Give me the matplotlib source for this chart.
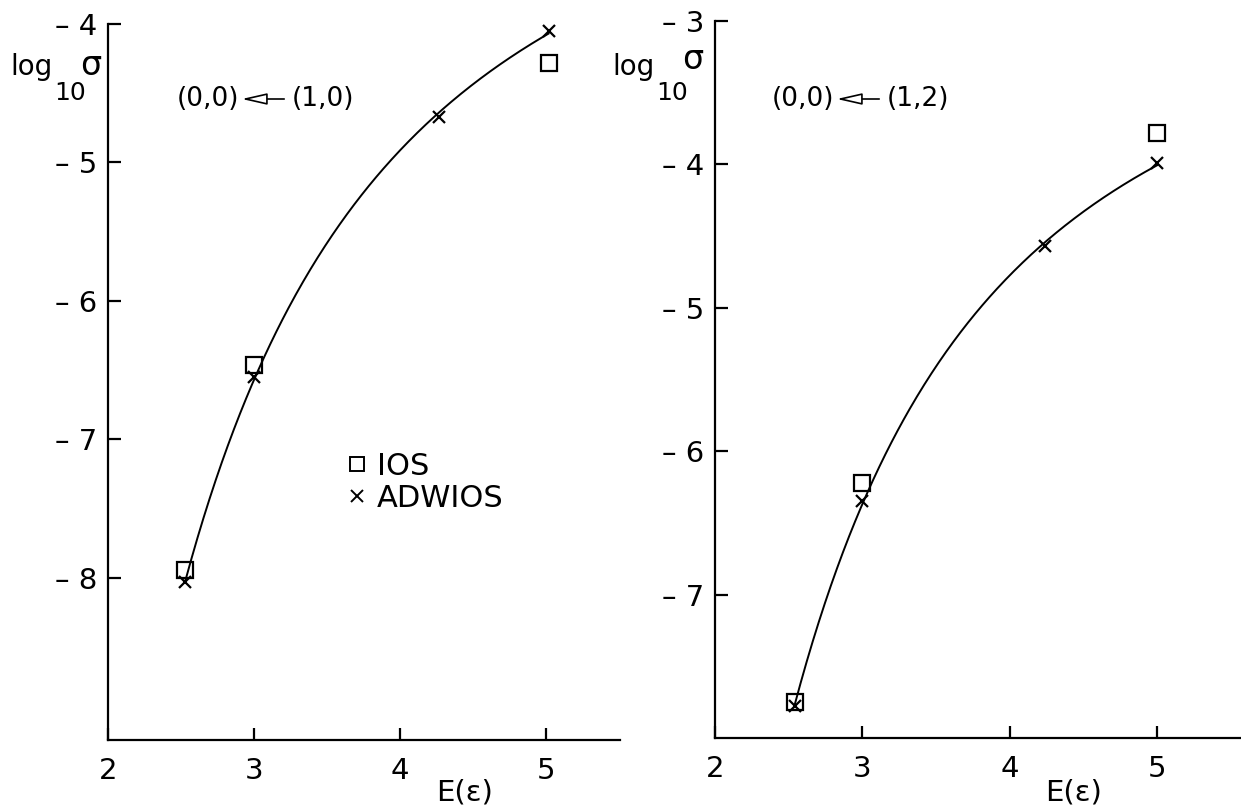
import numpy as np
import matplotlib
matplotlib.use("Agg")
import matplotlib.pyplot as plt
from matplotlib.lines import Line2D
from matplotlib.patches import FancyArrowPatch

plt.rcParams['font.family'] = ['DejaVu Sans']

# ---- data: panel (0,0) -> (1,0)
left_ios_x = [2.53, 3.0, 5.02]
left_ios_y = [-7.94, -6.46, -4.28]
left_adw_x = [2.53, 3.0, 4.27, 5.02]
left_adw_y = [-8.03, -6.55, -4.67, -4.05]

# ---- data: panel (0,0) -> (1,2)
right_ios_x = [2.54, 3.0, 5.0]
right_ios_y = [-7.75, -6.22, -3.78]
right_adw_x = [2.54, 3.0, 4.24, 5.0]
right_adw_y = [-7.78, -6.35, -4.57, -3.99]

x_ticks = [2, 3, 4, 5]
left_y_ticks = [-8, -7, -6, -5, -4]
right_y_ticks = [-7, -6, -5, -4, -3]

W, H = 1241, 806
fig = plt.figure(figsize=(W / 100, H / 100), dpi=100)


def fx(px):
    return px / W


def fy(py):
    return 1 - py / H


def setup(ax, xlim, ylim, yticks):
    ax.set_xlim(*xlim)
    ax.set_ylim(*ylim)
    for s in ['top', 'right']:
        ax.spines[s].set_visible(False)
    for s in ['left', 'bottom']:
        ax.spines[s].set_linewidth(1.6)
    ax.set_xticks(x_ticks)
    ax.set_xticklabels([str(t) for t in x_ticks])
    ax.set_yticks(yticks)
    ax.set_yticklabels(['\u2013 %d' % abs(t) for t in yticks])
    ax.tick_params(axis='both', direction='in', length=9, width=1.6,
                   labelsize=21)
    ax.tick_params(axis='x', pad=12)
    ax.tick_params(axis='y', pad=8)
    ax.patch.set_alpha(0)


def draw(ax, ios_x, ios_y, adw_x, adw_y):
    # smooth concave curve through the ADWIOS points (quadratic in 1/E)
    u = 1.0 / np.asarray(adw_x)
    coef = np.polyfit(u, adw_y, 2)
    xs = np.linspace(min(adw_x), max(adw_x), 300)
    ax.plot(xs, np.polyval(coef, 1.0 / xs), color='black', lw=1.4, zorder=2)
    ax.plot(ios_x, ios_y, ls='none', marker='s', ms=12, mfc='none',
            mec='black', mew=1.6, zorder=3, clip_on=False)
    ax.plot(adw_x, adw_y, ls='none', marker='x', ms=9, mec='black',
            mew=1.6, zorder=3, clip_on=False)


# left panel
axL = fig.add_axes([fx(108), fy(740), fx(620 - 108), (740 - 24) / H])
setup(axL, (2, 5.51), (-9.17, -4), left_y_ticks)
draw(axL, left_ios_x, left_ios_y, left_adw_x, left_adw_y)

# right panel
axR = fig.add_axes([fx(715), fy(738), fx(1241 - 715), (738 - 21) / H])
setup(axR, (2, 5.57), (-8, -3), right_y_ticks)
draw(axR, right_ios_x, right_ios_y, right_adw_x, right_adw_y)

# legend in left panel
handles = [Line2D([], [], ls='none', marker='s', ms=10, mfc='none',
                  mec='black', mew=1.4),
           Line2D([], [], ls='none', marker='x', ms=8, mec='black', mew=1.4)]
axL.legend(handles, ['IOS', 'ADWIOS'], frameon=False, fontsize=22,
           loc='center left', bbox_to_anchor=(0.415, 0.36),
           handlelength=0.6, handletextpad=0.35, labelspacing=0.1)

# y axis labels log10 sigma
for x0, sig_dy in ((10, 0), (612, -6)):
    fig.text(fx(x0), fy(75), 'log', fontsize=20, ha='left', va='baseline')
    fig.text(fx(x0 + 44), fy(100), '10', fontsize=18, ha='left',
             va='baseline')
    fig.text(fx(x0 + 70), fy(75 + sig_dy), '\u03c3', fontsize=24,
             ha='left', va='baseline')

# x axis labels
fig.text(fx(436), fy(800), 'E(\u03b5)', fontsize=21, ha='left',
         va='baseline')
fig.text(fx(1045), fy(800), 'E(\u03b5)', fontsize=21, ha='left',
         va='baseline')

# transition annotations
for x0, final in ((177, '(1,0)'), (772, '(1,2)')):
    fig.text(fx(x0), fy(99), '(0,0)', fontsize=19, ha='left',
             va='center')
    fig.text(fx(x0 + 115), fy(99), final, fontsize=19, ha='left',
             va='center')
    fig.patches.append(FancyArrowPatch(
        (fx(x0 + 110), fy(99)), (fx(x0 + 62), fy(99)),
        transform=fig.transFigure,
        arrowstyle='-|>,head_length=1.1,head_width=0.25',
        mutation_scale=14, lw=1.2, color='black', fc='white'))

fig.savefig('out.png', dpi=100)
